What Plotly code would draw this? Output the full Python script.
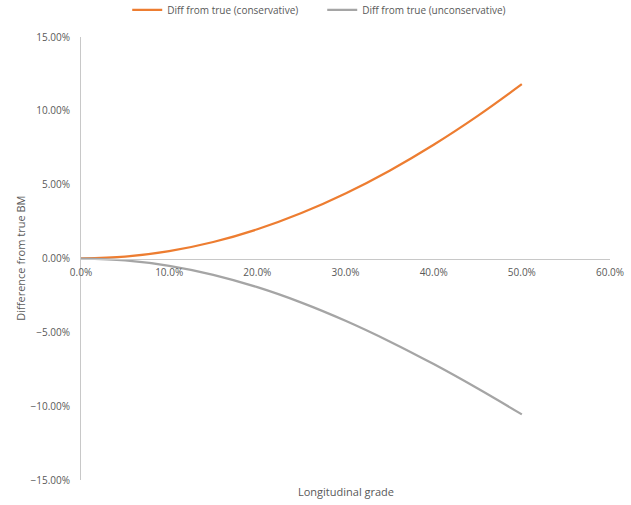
import plotly.graph_objects as go

grade = [0.0, 0.05, 0.10, 0.15, 0.20, 0.25, 0.30, 0.35, 0.40, 0.45, 0.50]
conservative = [0.0, 0.00125, 0.00499, 0.01119, 0.01980, 0.03078, 0.04403, 0.05948, 0.07703, 0.09659, 0.11803]
unconservative = [0.0, -0.00125, -0.00496, -0.01106, -0.01942, -0.02986, -0.04217, -0.05614, -0.07152, -0.08808, -0.10557]

x_ticks = [0.0, 0.1, 0.2, 0.3, 0.4, 0.5, 0.6]
y_ticks = [-0.15, -0.10, -0.05, 0.0, 0.05, 0.10, 0.15]

FONT = "Open Sans, Liberation Sans, sans-serif"
TXT = "#595959"

fig = go.Figure()
fig.add_trace(go.Scatter(x=grade, y=conservative, mode="lines", name="Diff from true (conservative)",
                         line=dict(color="#ED7D31", width=2.25, shape="spline")))
fig.add_trace(go.Scatter(x=grade, y=unconservative, mode="lines", name="Diff from true (unconservative)",
                         line=dict(color="#A5A5A5", width=2.25, shape="spline")))

fig.update_layout(
    width=631, height=505,
    margin=dict(l=81, r=21, t=37, b=25, autoexpand=False),
    paper_bgcolor="white", plot_bgcolor="white",
    font=dict(family=FONT, size=10, color=TXT),
    showlegend=True,
    legend=dict(orientation="h", x=0.456, xanchor="center", y=1.061, yanchor="middle",
                font=dict(size=10, color=TXT), itemwidth=30, entrywidth=150),
    xaxis=dict(range=[0, 0.6], tickvals=x_ticks, tickformat=".1%", showgrid=False,
               showline=True, linecolor="#C8C8C8", linewidth=1, ticks="",
               anchor="free", position=0.5, zeroline=False, ticklabelstandoff=4,
               tickfont=dict(size=10, color=TXT)),
    yaxis=dict(range=[-0.15, 0.15], tickvals=y_ticks, tickformat=".2%", showgrid=False,
               showline=True, linecolor="#C8C8C8", linewidth=1, ticks="", zeroline=False,
               ticklabelstandoff=8, tickfont=dict(size=10, color=TXT)),
    annotations=[
        dict(text="Longitudinal grade", xref="paper", yref="paper", x=0.5, y=-0.027,
             xanchor="center", yanchor="middle", showarrow=False,
             font=dict(size=11, color=TXT, family=FONT)),
        dict(text="Difference from true BM", xref="paper", yref="paper", x=-0.115, y=0.5,
             xanchor="center", yanchor="middle", textangle=-90, showarrow=False,
             font=dict(size=11, color=TXT, family=FONT)),
    ],
)

fig.write_html("out.html", config={"displayModeBar": False},
               post_script="document.body.style.margin='0';document.body.style.overflow='hidden';")
